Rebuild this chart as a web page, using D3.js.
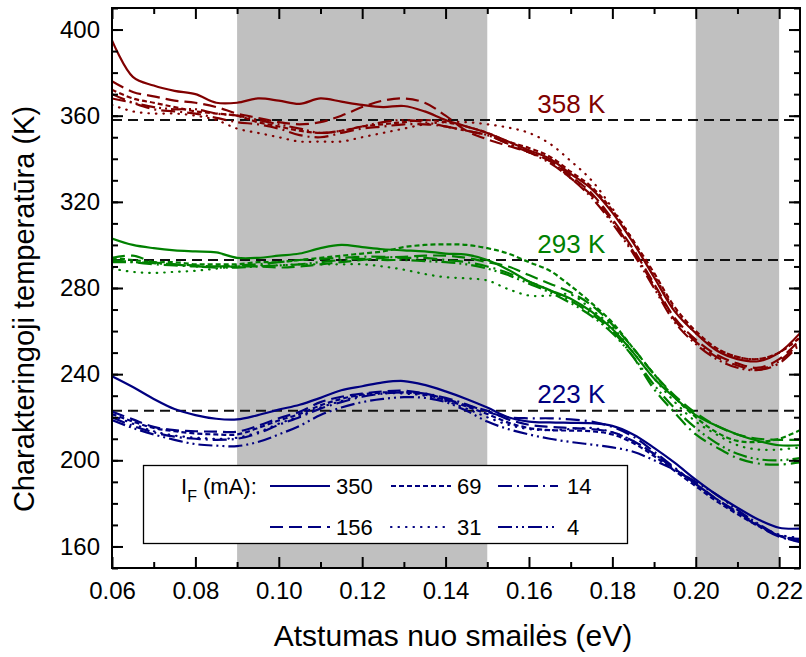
<!DOCTYPE html>
<html>
<head>
<meta charset="utf-8">
<script src="https://cdn.jsdelivr.net/npm/d3@7"></script>
<style>
  body { margin: 0; background: #fff; }
  text { font-family: "Liberation Sans", Arial, sans-serif; }
</style>
</head>
<body>
<svg id="chart" width="806" height="657"></svg>
<script>
// x grid (eV)
const xValues = [0.06, 0.065, 0.07, 0.075, 0.08, 0.085, 0.09, 0.095, 0.10, 0.105,
  0.11, 0.115, 0.12, 0.125, 0.13, 0.135, 0.14, 0.145, 0.15, 0.155,
  0.16, 0.165, 0.17, 0.175, 0.18, 0.185, 0.19, 0.195, 0.20, 0.205,
  0.21, 0.215, 0.22, 0.225];

const currents = ["350", "156", "69", "31", "14", "4"];
const refTemps = [358, 293, 223];
const xMajorTicks = [0.06, 0.08, 0.10, 0.12, 0.14, 0.16, 0.18, 0.20, 0.22];
const xMinorTicks = [0.07, 0.09, 0.11, 0.13, 0.15, 0.17, 0.19, 0.21];
const yMajorTicks = [160, 200, 240, 280, 320, 360, 400];
const yMinorTicks = d3.range(150, 411, 10);
const bandStart = [0.09, 0.20];
const bandEnd = [0.15, 0.22];

// 358 K
const red350 = [395, 378, 374, 371.5, 370, 366, 366, 368, 367, 365.5, 368, 366.5, 365, 364, 364.5, 362, 358, 355, 352, 348, 344, 340, 333, 326, 315, 301, 285, 269, 259, 251, 247, 246, 250, 259];
const red156 = [376, 371, 369, 367, 366, 364, 361, 359, 357, 356, 357, 360, 364, 367, 368, 366, 360, 353, 349, 346, 343, 339, 332, 324, 312, 298, 282, 266, 256, 249, 245, 243, 247, 256];
const red69  = [372, 368, 366, 364, 362, 361, 360, 357, 355, 353, 352, 353, 355, 356, 357, 358, 357, 355, 352, 348, 345, 341, 334, 327, 316, 302, 287, 271, 260, 252, 248, 247, 250, 257];
const red31  = [365, 362, 361, 361, 360, 358, 354, 352, 350, 348, 348, 348, 350, 352, 354, 356, 357, 357, 356, 354.5, 352, 347, 339, 330, 317, 302, 286, 270, 259, 252, 248, 247, 250, 257];
const red14  = [370, 366, 363, 362, 361, 359, 357, 356, 354, 351, 350, 352, 354, 355, 356, 356, 355, 353, 351, 347, 343, 339, 331, 323, 311, 297, 281, 265, 255, 248, 244, 242, 245, 254];
const red4   = [368, 366, 364, 363, 363, 361, 360, 358, 356, 354, 352, 353, 355, 357, 358, 357, 355, 353, 351, 347, 343, 338, 331, 322, 310, 296, 280, 264, 254, 247, 243, 242, 246, 255];

// 293 K
const green350 = [303, 300, 298.5, 297.5, 297, 296.5, 294, 294, 295, 296, 298.5, 300, 299, 298, 297.5, 297, 296, 295.5, 293, 288.5, 283, 279, 275, 269, 261, 250, 238, 229, 221, 216, 212, 209, 207, 207];
const green156 = [294, 295, 292, 291, 290.5, 290, 290, 290, 289.5, 290, 291, 292, 293, 294, 294.5, 295, 295, 294, 292, 290, 286, 282, 278, 272, 263, 252, 240, 230, 222, 216, 212, 210, 209.5, 209.5];
const green69  = [294, 293, 292, 292, 291, 291, 291, 292, 292, 293, 294, 295, 296, 297, 299, 300, 300.3, 300, 298.5, 296, 292, 288, 281, 273, 264, 252, 240, 229, 220, 213, 209, 208.5, 210, 214];
const green31  = [289, 287.5, 287, 287.5, 288, 289, 290, 290.5, 290.5, 291, 291, 291, 291, 290, 288.5, 286.5, 285, 284.5, 283.5, 279.5, 276.5, 276.5, 277, 270, 262, 250, 238, 227, 218, 212, 207, 205, 205, 206];
const green14  = [293, 292, 291, 290.5, 290, 290, 290.5, 291, 292, 293, 293.5, 294, 294.5, 294.5, 294, 294, 293, 292, 290, 287, 283, 279, 274, 268, 260, 248, 233, 222, 212, 206, 201, 198.5, 198, 199];
const green4   = [292, 292, 291.5, 291, 290, 289.5, 289.5, 290, 290.5, 291, 292, 293, 293.5, 293, 293, 292.5, 292, 291, 289, 286, 282, 278, 273, 267, 259, 248, 235, 224, 215, 208, 203, 200.5, 200, 201];

// 223 K
const blue350 = [239, 234, 228.5, 223.8, 221, 219.3, 219, 221, 223.5, 225.8, 229, 232.5, 234.4, 236.2, 236.8, 235, 232, 228.5, 224.5, 220, 218, 217.6, 217.4, 217.2, 216, 212, 205.8, 198.8, 191, 184, 178, 172.5, 168.7, 168.3];
const blue156 = [222.6, 219, 215.5, 214, 213.5, 213.3, 213.3, 216, 219.5, 222.5, 227, 229.5, 231, 232, 232.3, 231, 228.5, 225.5, 223, 219, 216.5, 215.5, 215, 214.5, 213, 209, 203, 196, 189, 182, 176, 170, 165, 163.5];
const blue69  = [221.5, 218, 215, 213.5, 212.5, 212, 212, 215, 218.5, 221.5, 225.5, 228.5, 230.5, 231.5, 231.5, 230.5, 228, 225, 221.5, 217.5, 215, 214, 213.8, 213.5, 212, 208, 202, 195, 188, 181, 175, 169.5, 165, 163];
const blue31  = [221, 217, 213.5, 211.5, 210.5, 210, 210.5, 213, 217, 220.5, 224.5, 227.5, 230, 231, 231, 230, 227.5, 224, 220, 216.5, 214.5, 214, 214.5, 215, 213, 209, 203, 196, 189, 182, 176, 170, 165.5, 164];
const blue14  = [220, 216, 213, 211, 210, 209.5, 210, 212.5, 216.5, 220, 224, 227, 229.5, 231, 231.5, 231, 229, 226, 222.5, 220, 219.5, 219.5, 219, 218, 215.5, 211, 204, 196.5, 189, 182, 175.5, 169.5, 164.5, 162.5];
const blue4   = [218.7, 215, 212, 209.5, 207.5, 206.8, 206.6, 208.5, 212, 216, 221, 224.5, 227, 228.5, 229.3, 229, 227, 223, 218, 214.5, 212, 210, 208.5, 207.3, 206, 204, 200, 195.5, 190, 184, 177, 170.5, 165, 162];

const groups = [
  {temp: 358, color: "#800000", lines: [red350, red156, red69, red31, red14, red4]},
  {temp: 293, color: "#008000", lines: [green350, green156, green69, green31, green14, green4]},
  {temp: 223, color: "#000080", lines: [blue350, blue156, blue69, blue31, blue14, blue4]}
];

// line style per current
const dashes = [null, "13,6", "5,3", "0.5,7", "14,5,2,5", "14,4,2,4,2,4"];
const caps = ["butt", "butt", "butt", "round", "butt", "butt"];

const svg = d3.select("#chart");
const plotLeft = 112, plotRight = 800, plotTop = 8, plotBottom = 568;

const x = d3.scaleLinear().domain([0.06, 0.225]).range([plotLeft, plotRight]);
const y = d3.scaleLinear().domain([150, 410]).range([plotBottom, plotTop]);

svg.append("defs").append("clipPath").attr("id", "clip")
  .append("rect").attr("x", plotLeft).attr("y", plotTop)
  .attr("width", plotRight - plotLeft).attr("height", plotBottom - plotTop);

// grey bands
svg.selectAll("rect.band")
  .data(bandStart)
  .enter().append("rect")
  .attr("class", "band")
  .attr("x", (d) => x(d))
  .attr("y", plotTop)
  .attr("width", (d, i) => x(bandEnd[i]) - x(d))
  .attr("height", plotBottom - plotTop)
  .attr("fill", "#c0c0c0");

// reference temperatures
svg.selectAll("line.ref")
  .data(refTemps)
  .enter().append("line")
  .attr("x1", plotLeft).attr("x2", plotRight)
  .attr("y1", (d) => y(d)).attr("y2", (d) => y(d))
  .attr("stroke", "#111")
  .attr("stroke-width", 2)
  .attr("stroke-dasharray", "10,6");

const line = d3.line()
  .x((d, i) => x(xValues[i]))
  .y((d) => y(d))
  .curve(d3.curveCatmullRom.alpha(0.5));

const plot = svg.append("g").attr("clip-path", "url(#clip)");
groups.forEach((g) => {
  g.lines.forEach((vals, i) => {
    plot.append("path")
      .datum(vals)
      .attr("d", line)
      .attr("fill", "none")
      .attr("stroke", g.color)
      .attr("stroke-width", 2.2)
      .attr("stroke-linecap", caps[i])
      .attr("stroke-dasharray", dashes[i]);
  });
  svg.append("text")
    .attr("x", x(0.162))
    .attr("y", y(g.temp) - 7.5)
    .attr("fill", g.color)
    .style("font-size", "26px")
    .text(g.temp + " K");
});

// legend
const legend = svg.append("g");
legend.append("rect")
  .attr("x", 143.5).attr("y", 465.5)
  .attr("width", 484).attr("height", 78)
  .attr("fill", "#fff").attr("stroke", "#000").attr("stroke-width", 1.3);

const lt = legend.append("text").attr("x", 181).attr("y", 494).style("font-size", "22px");
lt.append("tspan").text("I");
lt.append("tspan").attr("dy", 8).style("font-size", "16px").text("F");
lt.append("tspan").attr("dy", -8).text(" (mA):");

const colX = [270, 391, 498];
const colText = [336, 457, 567];
const rowY = [486, 527];
currents.forEach((c, i) => {
  const col = Math.floor(i / 2), row = i % 2;
  legend.append("line")
    .attr("x1", colX[col]).attr("x2", colX[col] + 60)
    .attr("y1", rowY[row]).attr("y2", rowY[row])
    .attr("stroke", "#000080")
    .attr("stroke-width", 2.2)
    .attr("stroke-linecap", caps[i])
    .attr("stroke-dasharray", dashes[i]);
  legend.append("text")
    .attr("x", colText[col]).attr("y", rowY[row] + 8)
    .style("font-size", "22px")
    .text(c);
});

// axes, ticks pointing inward
const fmtX = d3.format(".2f");
svg.append("g").attr("transform", "translate(0," + plotBottom + ")")
  .call(d3.axisBottom(x).tickValues(xMajorTicks).tickSize(-11).tickSizeOuter(0).tickPadding(14).tickFormat(fmtX));
svg.append("g").attr("transform", "translate(0," + plotBottom + ")")
  .call(d3.axisBottom(x).tickValues(xMinorTicks).tickSize(-6).tickSizeOuter(0).tickFormat(""));
svg.append("g").attr("transform", "translate(0," + plotTop + ")")
  .call(d3.axisTop(x).tickValues(xMajorTicks).tickSize(-11).tickSizeOuter(0).tickFormat(""));
svg.append("g").attr("transform", "translate(0," + plotTop + ")")
  .call(d3.axisTop(x).tickValues(xMinorTicks).tickSize(-6).tickSizeOuter(0).tickFormat(""));

svg.append("g").attr("transform", "translate(" + plotLeft + ",0)")
  .call(d3.axisLeft(y).tickValues(yMajorTicks).tickSize(-11).tickSizeOuter(0).tickPadding(12).tickFormat(d3.format("d")));
svg.append("g").attr("transform", "translate(" + plotLeft + ",0)")
  .call(d3.axisLeft(y).tickValues(yMinorTicks).tickSize(-6).tickSizeOuter(0).tickFormat(""));
svg.append("g").attr("transform", "translate(" + plotRight + ",0)")
  .call(d3.axisRight(y).tickValues(yMajorTicks).tickSize(-11).tickSizeOuter(0).tickFormat(""));
svg.append("g").attr("transform", "translate(" + plotRight + ",0)")
  .call(d3.axisRight(y).tickValues(yMinorTicks).tickSize(-6).tickSizeOuter(0).tickFormat(""));

svg.selectAll(".domain").remove();
svg.selectAll(".tick line").attr("stroke", "#000").attr("stroke-width", 2);
svg.selectAll(".tick text")
  .style("font-size", "24px")
  .attr("fill", "#000")
  .style("font-family", "'Liberation Sans', Arial, sans-serif");

svg.append("rect")
  .attr("x", plotLeft).attr("y", plotTop)
  .attr("width", plotRight - plotLeft).attr("height", plotBottom - plotTop)
  .attr("fill", "none").attr("stroke", "#000").attr("stroke-width", 2);

// axis titles
svg.append("text")
  .attr("x", 453).attr("y", 646)
  .attr("text-anchor", "middle")
  .style("font-size", "30px")
  .text("Atstumas nuo smailės (eV)");

svg.append("text")
  .attr("transform", "translate(34,309) rotate(-90)")
  .attr("text-anchor", "middle")
  .style("font-size", "29px")
  .text("Charakteringoji temperatūra (K)");
</script>
</body>
</html>
